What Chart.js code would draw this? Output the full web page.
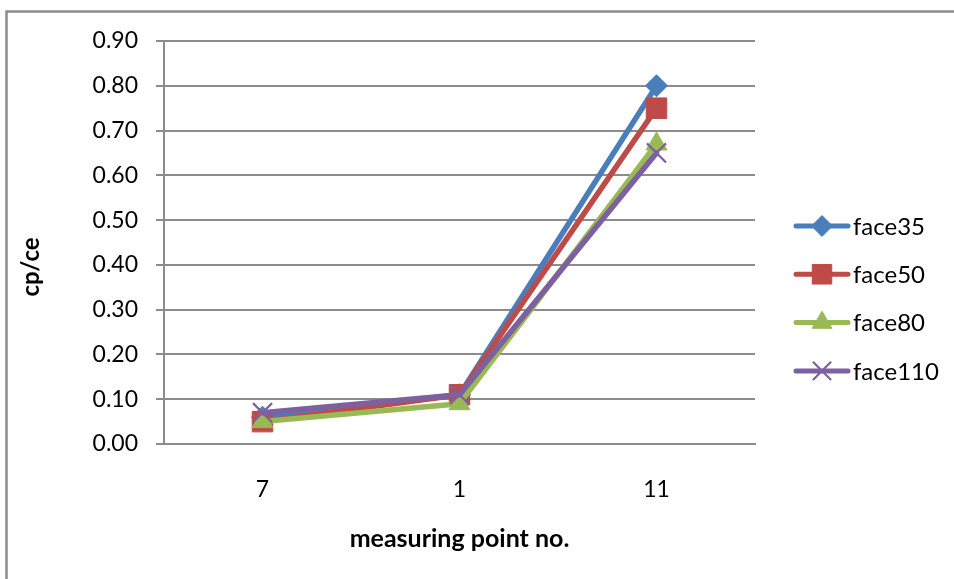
<!DOCTYPE html>
<html>
<head>
<meta charset="utf-8">
<script src="https://cdn.jsdelivr.net/npm/chart.js@4/dist/chart.umd.min.js"></script>
<style>
  html, body { margin: 0; padding: 0; background: #fff; }
  #wrap { width: 954px; height: 579px; position: relative; }
</style>
</head>
<body>
<div id="wrap"><canvas id="c" width="954" height="579"></canvas></div>
<script>
// Measuring points along the x axis
const categories = ['7', '1', '11'];

// cp/ce per measuring point, one series per face
const face35  = [0.06, 0.11, 0.80];
const face50  = [0.05, 0.11, 0.75];
const face80  = [0.05, 0.09, 0.67];
const face110 = [0.07, 0.11, 0.65];

const seriesNames = ['face35', 'face50', 'face80', 'face110'];

const yMin = 0, yMax = 0.9, yStep = 0.1;

const FONT = 'Lato, "Open Sans", sans-serif';
const GRID = '#8c8c8c';

const styles = [
  { color: '#4a7ebb', point: 'rectRot',  radius: 11,   pbw: 1 },
  { color: '#be4b48', point: 'rect',     radius: 14.5, pbw: 1 },
  { color: '#98b954', point: 'triangle', radius: 12,   pbw: 1 },
  { color: '#7d60a0', point: 'crossRot', radius: 13.5, pbw: 2.2 }
];

const values = [face35, face50, face80, face110];

const datasets = values.map((v, i) => ({
  label: seriesNames[i],
  data: v,
  borderColor: styles[i].color,
  backgroundColor: styles[i].color,
  pointBackgroundColor: styles[i].color,
  pointBorderColor: styles[i].color,
  pointStyle: styles[i].point,
  pointRadius: styles[i].radius,
  pointHoverRadius: styles[i].radius,
  pointBorderWidth: styles[i].pbw,
  borderWidth: 5.5,
  borderJoinStyle: 'round',
  borderCapStyle: 'round',
  tension: 0,
  fill: false,
  order: values.length - i
}));

// Outer chart frame (left and top edges) and the rotated value-axis title
const framePlugin = {
  id: 'frame',
  beforeDraw(chart) {
    const ctx = chart.ctx;
    ctx.save();
    ctx.fillStyle = '#fff';
    ctx.fillRect(0, 0, chart.width, chart.height);
    ctx.strokeStyle = '#8c8c8c';
    ctx.lineWidth = 2.5;
    ctx.beginPath();
    ctx.moveTo(6.5, chart.height + 2);
    ctx.lineTo(6.5, 11.5);
    ctx.lineTo(chart.width + 2, 11.5);
    ctx.stroke();

    ctx.translate(31, 267);
    ctx.rotate(-Math.PI / 2);
    ctx.fillStyle = '#000';
    ctx.font = 'bold 24px ' + FONT;
    ctx.textAlign = 'center';
    ctx.textBaseline = 'middle';
    ctx.fillText('cp/ce', 0, 0);
    ctx.restore();
  }
};

// Legend with a line segment and the series marker
const lineLegend = {
  id: 'lineLegend',
  afterDraw(chart) {
    const ctx = chart.ctx;
    const x0 = 796, x1 = 848, xm = 822, xt = 853;
    const yStart = 226, gap = 48.3;
    ctx.save();
    chart.data.datasets.forEach((ds, i) => {
      const y = yStart + i * gap;
      ctx.strokeStyle = ds.borderColor;
      ctx.lineWidth = 5;
      ctx.lineCap = 'round';
      ctx.beginPath();
      ctx.moveTo(x0, y);
      ctx.lineTo(x1, y);
      ctx.stroke();
      ctx.lineCap = 'butt';
      ctx.fillStyle = ds.pointBackgroundColor;
      ctx.strokeStyle = ds.pointBorderColor;
      ctx.lineWidth = ds.pointBorderWidth;
      Chart.helpers.drawPoint(ctx, {
        pointStyle: ds.pointStyle,
        radius: ds.pointRadius * 0.95,
        rotation: 0,
        borderWidth: ds.pointBorderWidth
      }, xm, y);
      ctx.fillStyle = '#000';
      ctx.font = '24px ' + FONT;
      ctx.textBaseline = 'middle';
      ctx.textAlign = 'left';
      ctx.fillText(ds.label, xt, y + 1);
    });
    ctx.restore();
  }
};

new Chart(document.getElementById('c'), {
  type: 'line',
  data: { labels: categories, datasets },
  plugins: [framePlugin, lineLegend],
  options: {
    responsive: false,
    animation: false,
    devicePixelRatio: 1,
    layout: { padding: { left: 0, right: 199, top: 41, bottom: 0 } },
    plugins: {
      legend: { display: false },
      tooltip: { enabled: false }
    },
    scales: {
      x: {
        type: 'category',
        offset: true,
        grid: { display: false, offset: true },
        border: { display: true, color: GRID, width: 2 },
        ticks: { color: '#000', font: { family: FONT, size: 23 }, padding: 24, maxRotation: 0 },
        title: {
          display: true,
          text: 'measuring point no.',
          color: '#000',
          font: { family: FONT, size: 25, weight: 'bold' },
          padding: { top: 0, bottom: 25 }
        },
        afterFit(scale) { scale.height = 135; }
      },
      y: {
        min: yMin,
        max: yMax,
        grid: { color: GRID, lineWidth: 2, tickLength: 8, drawTicks: true },
        border: { display: true, color: GRID, width: 2 },
        ticks: {
          stepSize: yStep,
          color: '#000',
          font: { family: FONT, size: 23 },
          padding: 18,
          callback: v => Number(v).toFixed(2)
        },
        title: { display: false },
        afterFit(scale) { scale.width = 164; }
      }
    }
  }
});
</script>
</body>
</html>
